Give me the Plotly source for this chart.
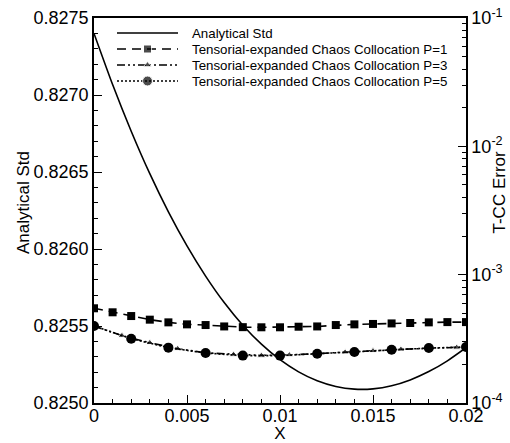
import plotly.graph_objects as go

# Analytical standard deviation along X
x_std = [0.000, 0.001, 0.002, 0.003, 0.004, 0.005, 0.006, 0.007, 0.008, 0.009, 0.010,
         0.011, 0.012, 0.013, 0.014, 0.015, 0.016, 0.017, 0.018, 0.019, 0.020]
std_analytical = [0.827400, 0.827068, 0.826765, 0.826489, 0.826241, 0.826020, 0.825824,
                  0.825652, 0.825505, 0.825382, 0.825281, 0.825202, 0.825144, 0.825107,
                  0.825090, 0.825092, 0.825112, 0.825150, 0.825204, 0.825274, 0.825359]

# T-CC error, P=1 (every 0.001)
x_p1 = x_std
err_p1 = [5.47e-4, 5.09e-4, 4.76e-4, 4.46e-4, 4.25e-4, 4.10e-4, 4.05e-4, 3.95e-4, 3.90e-4,
          3.89e-4, 3.89e-4, 3.93e-4, 3.95e-4, 4.05e-4, 4.10e-4, 4.13e-4, 4.17e-4, 4.20e-4,
          4.25e-4, 4.27e-4, 4.27e-4]

# T-CC error, P=3 (symbols every 0.0015, curve ends at 0.02)
x_p3 = [0.0, 0.0015, 0.003, 0.0045, 0.006, 0.0075, 0.009, 0.0105, 0.012, 0.0135,
        0.015, 0.0165, 0.018, 0.0195, 0.020]
err_p3 = [3.98e-4, 3.35e-4, 2.95e-4, 2.65e-4, 2.46e-4, 2.39e-4, 2.35e-4, 2.37e-4, 2.42e-4,
          2.49e-4, 2.55e-4, 2.62e-4, 2.68e-4, 2.71e-4, 2.73e-4]

# T-CC error, P=5 (every 0.002)
x_p5 = [0.000, 0.002, 0.004, 0.006, 0.008, 0.010, 0.012, 0.014, 0.016, 0.018, 0.020]
err_p5 = [3.98e-4, 3.17e-4, 2.70e-4, 2.45e-4, 2.34e-4, 2.34e-4, 2.42e-4, 2.50e-4,
          2.60e-4, 2.68e-4, 2.73e-4]

series_names = ["Analytical Std",
                "Tensorial-expanded Chaos Collocation P=1",
                "Tensorial-expanded Chaos Collocation P=3",
                "Tensorial-expanded Chaos Collocation P=5"]

# Right-axis (log) ticks
err_major = [1e-4, 1e-3, 1e-2, 1e-1]
err_major_text = ["10<sup>-4</sup>", "10<sup>-3</sup>", "10<sup>-2</sup>", "10<sup>-1</sup>"]
err_minor = [m * 10.0 ** e for e in (-4, -3, -2) for m in range(2, 10)]

FONT = "Liberation Sans, Arial, Helvetica, sans-serif"
LW = 1.6

styles = [
    dict(line=dict(color="black", width=LW), symbol=None, msize=0),
    dict(line=dict(color="black", width=LW, dash="9px,6px"), symbol="square", msize=8),
    dict(line=dict(color="black", width=LW, dash="8px,3px,2px,3px,2px,3px"),
         symbol="triangle-up", msize=7),
    dict(line=dict(color="black", width=LW, dash="2px,2px"), symbol="circle", msize=10),
]

fig = go.Figure()

fig.add_trace(go.Scatter(
    x=x_std, y=std_analytical, name=series_names[0], mode="lines",
    line=dict(styles[0]["line"], shape="spline", smoothing=0.6),
    yaxis="y", showlegend=False))

fig.add_trace(go.Scatter(
    x=x_p1, y=err_p1, name=series_names[1], mode="lines+markers",
    line=styles[1]["line"],
    marker=dict(symbol=styles[1]["symbol"], size=styles[1]["msize"], color="black"),
    yaxis="y2", showlegend=False))

p3_sizes = [styles[2]["msize"]] * (len(x_p3) - 1) + [0]
fig.add_trace(go.Scatter(
    x=x_p3, y=err_p3, name=series_names[2], mode="lines+markers",
    line=styles[2]["line"],
    marker=dict(symbol=styles[2]["symbol"], size=p3_sizes, color="black"),
    yaxis="y2", showlegend=False))

fig.add_trace(go.Scatter(
    x=x_p5, y=err_p5, name=series_names[3], mode="lines+markers",
    line=styles[3]["line"],
    marker=dict(symbol=styles[3]["symbol"], size=styles[3]["msize"], color="black"),
    yaxis="y2", showlegend=False))

# Key drawn in a pixel-unit overlay axis: sample line with a centred symbol, then the name
key_x0, key_x1, key_text_x = 117, 178, 190
key_rows = [33, 49, 65, 81]
annotations = []
for name, st, ry in zip(series_names, styles, key_rows):
    xm = (key_x0 + key_x1) / 2
    fig.add_trace(go.Scatter(
        x=[key_x0, xm, key_x1], y=[ry, ry, ry], xaxis="x3", yaxis="y3",
        mode="lines+markers" if st["symbol"] else "lines",
        line=st["line"],
        marker=dict(symbol=st["symbol"] or "circle", size=[0, st["msize"], 0], color="black"),
        showlegend=False, hoverinfo="skip", cliponaxis=False))
    annotations.append(dict(
        x=key_text_x, y=ry, xref="x3", yref="y3", text=name, showarrow=False,
        xanchor="left", yanchor="middle",
        font=dict(family=FONT, size=13.3, color="black")))

# Vertical axis titles, placed beside their tick labels
annotations.append(dict(
    x=-0.191, y=0.522, xref="paper", yref="paper", text="Analytical Std",
    textangle=-90, showarrow=False, xanchor="center", yanchor="middle",
    font=dict(family=FONT, size=17, color="black")))
annotations.append(dict(
    x=1.091, y=0.549, xref="paper", yref="paper", text="T-CC Error",
    textangle=-90, showarrow=False, xanchor="center", yanchor="middle",
    font=dict(family=FONT, size=17, color="black")))

axis_common = dict(showgrid=False, zeroline=False, showline=True, linecolor="black",
                   linewidth=1.5, ticks="inside", ticklen=8, tickwidth=1.2,
                   tickcolor="black", automargin=False, tickfont=dict(size=18))

fig.update_layout(
    width=510, height=443,
    margin=dict(l=94, r=44, t=18, b=40),
    paper_bgcolor="white", plot_bgcolor="white",
    font=dict(family=FONT, color="black", size=18),
    showlegend=False,
    annotations=annotations,
    xaxis=dict(
        axis_common, range=[0, 0.02], dtick=0.005, tick0=0, mirror=True,
        ticklabelstandoff=-4,
        minor=dict(dtick=0.001, ticks="inside", ticklen=4, tickwidth=1, tickcolor="black"),
        title=dict(text="X", font=dict(size=17), standoff=11)),
    yaxis=dict(
        axis_common, range=[0.8250, 0.8275], dtick=0.0005, tick0=0.825, tickformat=".4f",
        minor=dict(dtick=0.0001, ticks="inside", ticklen=4, tickwidth=1, tickcolor="black")),
    yaxis2=dict(
        axis_common, type="log", range=[-4, -1],
        tickmode="array", tickvals=err_major, ticktext=err_major_text,
        overlaying="y", side="right", anchor="x",
        minor=dict(tickmode="array", tickvals=err_minor, ticks="inside", ticklen=4,
                   tickwidth=1, tickcolor="black")),
    xaxis3=dict(domain=[0, 1], anchor="y3", overlaying="x", range=[94, 466],
                visible=False, fixedrange=True),
    yaxis3=dict(domain=[0, 1], anchor="x3", overlaying="y", range=[403, 18],
                visible=False, fixedrange=True),
)

fig.write_html("out.html")
